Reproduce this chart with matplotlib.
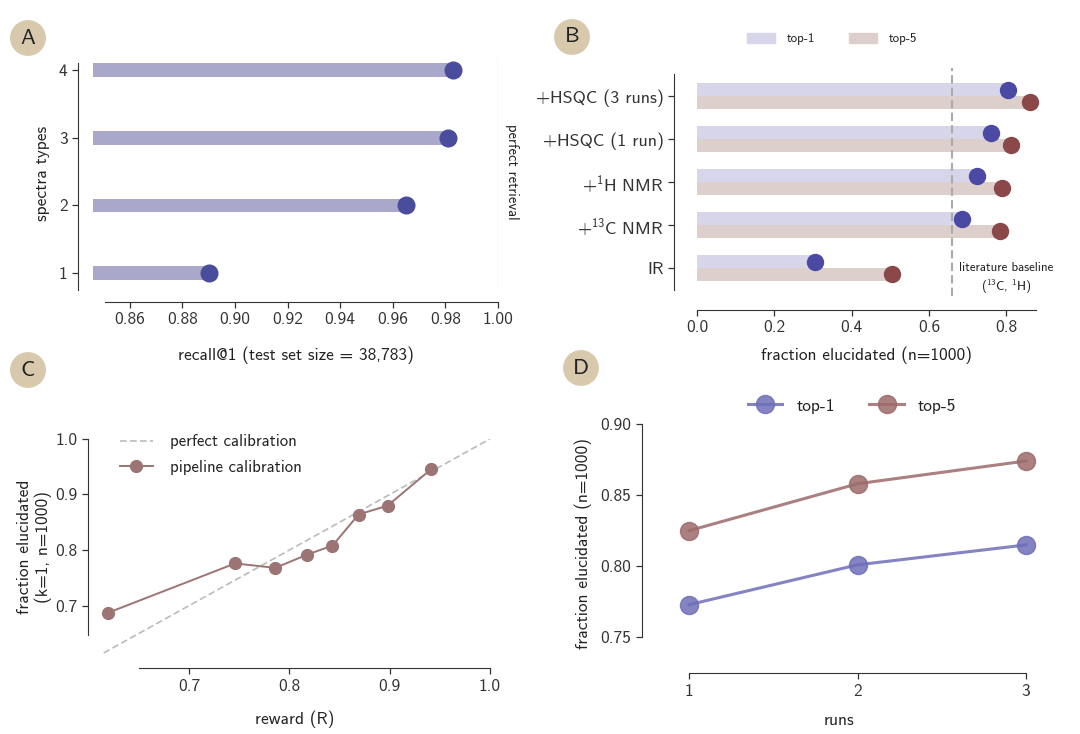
import matplotlib
matplotlib.use('Agg')
import matplotlib.pyplot as plt
from matplotlib.patches import Patch
import numpy as np

# ---- data ----
spectra_types = [1, 2, 3, 4]
recall_at_1 = [0.890, 0.965, 0.981, 0.983]

b_labels = ['IR', '+$^{13}$C NMR', '+$^{1}$H NMR', '+HSQC (1 run)', '+HSQC (3 runs)']
b_top1 = [0.304, 0.685, 0.724, 0.761, 0.804]
b_top5 = [0.504, 0.783, 0.790, 0.813, 0.862]
lit_baseline = 0.659

reward = [0.619, 0.746, 0.786, 0.818, 0.843, 0.869, 0.898, 0.941]
calib_frac = [0.687, 0.776, 0.768, 0.792, 0.808, 0.864, 0.880, 0.945]

runs = [1, 2, 3]
runs_top1 = [0.773, 0.801, 0.815]
runs_top5 = [0.825, 0.858, 0.874]

# ---- colours ----
C_BAR_A = '#a9a8cb'
C_DOT_A = '#4a4c9c'
C_BAR1 = '#d6d5ea'
C_BAR5 = '#dccfcc'
C_DOT1 = '#4a4aa4'
C_DOT5 = '#8a4848'
C_CAL = '#9c7474'
C_L1 = '#6e6eb8'
C_L5 = '#9c6a6a'
C_BADGE = '#d8c9ad'
C_SPINE = '#333333'

plt.rcParams['font.family'] = ['cmss10', 'DejaVu Sans']
plt.rcParams['mathtext.fontset'] = 'custom'
plt.rcParams['mathtext.rm'] = 'cmss10'
plt.rcParams['axes.unicode_minus'] = False
plt.rcParams['axes.edgecolor'] = C_SPINE
plt.rcParams['xtick.color'] = C_SPINE
plt.rcParams['ytick.color'] = C_SPINE
plt.rcParams['text.color'] = '#222222'
plt.rcParams['axes.labelcolor'] = '#222222'

W, H = 1080, 734
fig = plt.figure(figsize=(W / 100, H / 100), dpi=100)


def px_rect(l, t, r, b):
    return [l / W, 1 - b / H, (r - l) / W, (b - t) / H]


def style_axis(ax, xoff, yoff):
    for s in ['top', 'right']:
        ax.spines[s].set_visible(False)
    ax.spines['left'].set_position(('outward', yoff))
    ax.spines['bottom'].set_position(('outward', xoff))
    ax.tick_params(direction='out', length=4, width=0.9)


def badge(x, y, letter):
    fig.text(x / W, 1 - y / H, letter, ha='center', va='center', fontsize=16,
             bbox=dict(boxstyle='circle,pad=0.38', fc=C_BADGE, ec='none'))


# ---- A ----
ax = fig.add_axes(px_rect(93, 56, 498, 290))
ax.barh(spectra_types, recall_at_1, height=0.2, color=C_BAR_A, zorder=2)
ax.plot(recall_at_1, spectra_types, 'o', color=C_DOT_A, ms=12, zorder=3, clip_on=False)
ax.axvline(1.0, color='#c8c8c8', lw=0.9, ymin=0.01, ymax=0.99)
ax.text(1.0025, 2.5, 'perfect retrieval', rotation=270, ha='left', va='center', fontsize=10.5)
ax.set_xlim(0.846, 1.0)
ax.set_ylim(0.75, 4.21)
ax.set_xticks(np.arange(0.86, 1.001, 0.02))
ax.set_xticklabels(['%.2f' % v for v in np.arange(0.86, 1.001, 0.02)])
ax.set_yticks(spectra_types)
style_axis(ax, 8.6, 10.8)
ax.spines['bottom'].set_bounds(0.8505, 1.0)
ax.spines['left'].set_bounds(0.75, 4.1)
ax.tick_params(labelsize=12.5)
ax.set_ylabel('spectra types', fontsize=12.5, labelpad=6)
ax.set_xlabel('recall@1 (test set size = 38,783)', fontsize=12.5, labelpad=14)

# ---- B ----
ax = fig.add_axes(px_rect(697, 68, 1036, 296))
ypos = np.arange(len(b_labels))
ax.barh(ypos + 0.15, b_top1, height=0.3, color=C_BAR1, zorder=2)
ax.barh(ypos - 0.15, b_top5, height=0.3, color=C_BAR5, zorder=2)
ax.plot(b_top1, ypos + 0.15, 'o', color=C_DOT1, ms=11.5, zorder=3, clip_on=False)
ax.plot(b_top5, ypos - 0.15, 'o', color=C_DOT5, ms=11.5, zorder=3, clip_on=False)
ax.axvline(lit_baseline, color='#aaaaaa', lw=1.5, ls=(0, (4, 2)), zorder=4)
ax.text(0.80, -0.25, 'literature baseline\n($^{13}$C, $^{1}$H)', ha='center', va='center',
        fontsize=9.3, linespacing=1.3, clip_on=False)
ax.set_xlim(0, 0.877)
ax.set_ylim(-0.65, 4.65)
ax.set_yticks(ypos)
ax.set_yticklabels(b_labels)
ax.set_xticks([0.0, 0.2, 0.4, 0.6, 0.8])
ax.set_xticklabels(['0.0', '0.2', '0.4', '0.6', '0.8'])
style_axis(ax, 10, 16.5)
ax.spines['left'].set_bounds(-0.5, 4.5)
ax.tick_params(axis='y', labelsize=13)
ax.tick_params(axis='x', labelsize=12.5)
ax.set_xlabel('fraction elucidated (n=1000)', fontsize=12.5, labelpad=8)
leg = ax.legend(handles=[Patch(color=C_BAR1, label='top-1'), Patch(color=C_BAR5, label='top-5')],
                loc='center', bbox_to_anchor=(832 / W, 1 - 39 / H), bbox_transform=fig.transFigure,
                ncol=2, frameon=False, fontsize=9.3, handlelength=2.2, handleheight=0.8,
                columnspacing=2.6, handletextpad=0.9)

# ---- C ----
ax = fig.add_axes(px_rect(98.7, 438.9, 490, 655.7))
ax.plot([0.615, 1.0], [0.615, 1.0], ls=(0, (4, 2)), color='#bbbbbb', lw=1.2,
        label='perfect calibration')
ax.plot(reward, calib_frac, '-o', color=C_CAL, lw=1.4, ms=8.5, label='pipeline calibration',
        clip_on=False)
ax.set_xlim(0.61, 1.0)
ax.set_ylim(0.61, 1.0)
ax.set_xticks([0.7, 0.8, 0.9, 1.0])
ax.set_xticklabels(['0.7', '0.8', '0.9', '1.0'])
ax.set_yticks([0.7, 0.8, 0.9, 1.0])
ax.set_yticklabels(['0.7', '0.8', '0.9', '1.0'])
style_axis(ax, 9, 8)
ax.spines['bottom'].set_bounds(0.65, 1.0)
ax.spines['left'].set_bounds(0.647, 1.0)
ax.tick_params(labelsize=12.5)
ax.set_xlabel('reward (R)', fontsize=12.5, labelpad=12)
ax.set_ylabel('fraction elucidated\n(k=1, n=1000)', fontsize=12.5, labelpad=2)
ax.legend(loc='upper left', bbox_to_anchor=(0.015, 1.09), frameon=False, fontsize=12,
          handlelength=2.0, handletextpad=1.0, labelspacing=0.65)

# ---- D ----
ax = fig.add_axes(px_rect(652, 424, 1026, 663))
ax.plot(runs, runs_top1, '-o', color=C_L1, lw=2.2, ms=13, alpha=0.85, label='top-1', clip_on=False)
ax.plot(runs, runs_top5, '-o', color=C_L5, lw=2.2, ms=13, alpha=0.85, label='top-5', clip_on=False)
ax.set_xlim(0.78, 3.0)
ax.set_ylim(0.732, 0.9)
ax.set_xticks(runs)
ax.set_yticks([0.75, 0.80, 0.85, 0.90])
ax.set_yticklabels(['0.75', '0.80', '0.85', '0.90'])
style_axis(ax, 7.5, 7.5)
ax.spines['bottom'].set_bounds(1, 3)
ax.spines['left'].set_bounds(0.75, 0.90)
ax.tick_params(labelsize=12.5)
ax.set_xlabel('runs', fontsize=12.5, labelpad=10)
ax.set_ylabel('fraction elucidated (n=1000)', fontsize=12.5, labelpad=6)
ax.legend(loc='center', bbox_to_anchor=(852 / W, 1 - 406 / H), bbox_transform=fig.transFigure,
          ncol=2, frameon=False, fontsize=12.5, handlelength=2.0, columnspacing=2.0,
          handletextpad=0.8)

badge(28, 38, 'A')
badge(572, 37, 'B')
badge(28, 370, 'C')
badge(581, 368, 'D')

fig.savefig('out.png', dpi=100)
